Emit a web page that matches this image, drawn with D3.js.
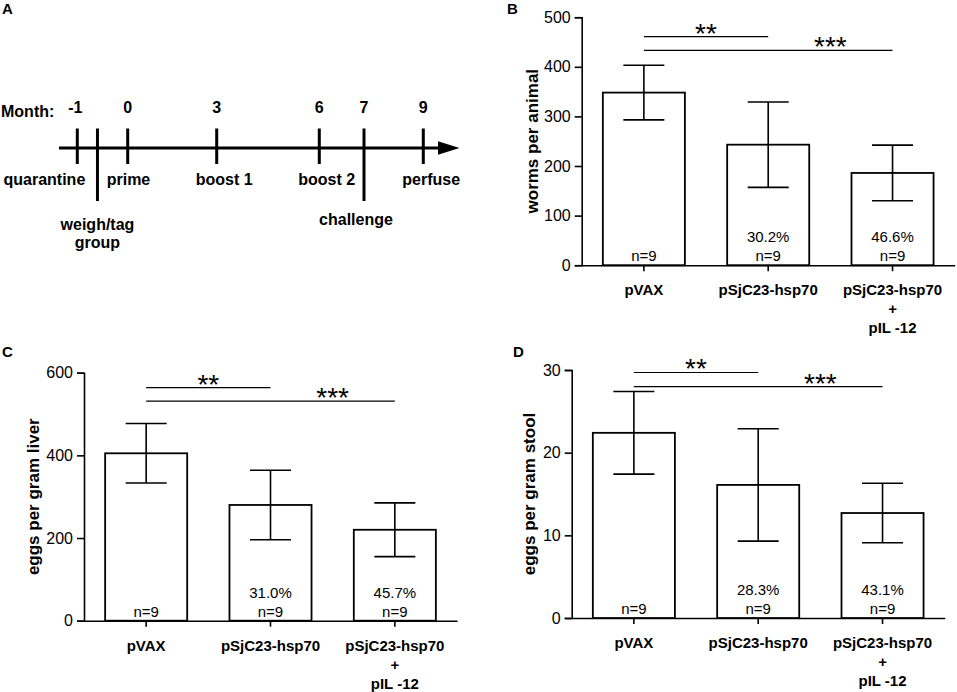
<!DOCTYPE html>
<html>
<head>
<meta charset="utf-8">
<script src="https://cdn.jsdelivr.net/npm/d3@7"></script>
<style>
  body { margin: 0; background: #fff; }
  svg text { font-family: "Liberation Sans", Arial, sans-serif; fill: #000; }
</style>
</head>
<body>
<div id="chart"></div>
<script>
// ---- data ----
var groups = ["pVAX", "pSjC23-hsp70", "pSjC23-hsp70 + pIL-12"];
var groupLines = [["pVAX"], ["pSjC23-hsp70"], ["pSjC23-hsp70", "+", "pIL -12"]];
var nLabels = ["n=9", "n=9", "n=9"];

var wormsMean = [348, 243, 186];
var wormsSd = [55, 86, 56];
var wormsReduction = ["", "30.2%", "46.6%"];
var wormsTicks = [0, 100, 200, 300, 400, 500];
var wormsSig = [461, 433];

var liverMean = [405, 280, 220];
var liverSd = [72, 84, 65];
var liverReduction = ["", "31.0%", "45.7%"];
var liverTicks = [0, 200, 400, 600];
var liverSig = [564, 531];

var stoolMean = [22.4, 16.1, 12.7];
var stoolSd = [5.0, 6.8, 3.6];
var stoolReduction = ["", "28.3%", "43.1%"];
var stoolTicks = [0, 10, 20, 30];
var stoolSig = [29.7, 28.0];

var sigStars = ["**", "***"];
var sigTargets = [1, 2];

var months = [-1, 0, 3, 6, 7, 9];
var monthEvents = ["quarantine", "prime", "boost 1", "boost 2", "", "perfuse"];
var extraMarks = [{m: -0.6, lines: ["weigh/tag", "group"]}, {m: 7, lines: ["challenge"]}];

var svg = d3.select("#chart").append("svg")
    .attr("width", 957)
    .attr("height", 692);

// panel letters
var letters = [["A", 2, 14], ["B", 507, 14], ["C", 2, 357], ["D", 513, 357]];
svg.selectAll(".letter").data(letters).enter().append("text")
    .attr("x", function(d) { return d[1]; })
    .attr("y", function(d) { return d[2]; })
    .attr("font-size", 15).attr("font-weight", "bold")
    .text(function(d) { return d[0]; });

// ---- panel A: timeline ----
var tx = d3.scaleLinear()
    .domain([-1, 0, 3, 6, 7, 9])
    .range([77.3, 127.7, 216.7, 319.3, 364, 423.3]);
var lineY = 148;
var tl = svg.append("g");

tl.append("line")
    .attr("x1", 59).attr("x2", 442)
    .attr("y1", lineY).attr("y2", lineY)
    .attr("stroke", "#000").attr("stroke-width", 3);
tl.append("path")
    .attr("d", "M438," + (lineY - 6.8) + "L459.5," + lineY + "L438," + (lineY + 6.8) + "Z")
    .attr("fill", "#000");

// month ticks (7 is drawn long as challenge)
tl.selectAll(".mtick").data(months.filter(function(m) { return m != 7; })).enter().append("line")
    .attr("x1", function(d) { return tx(d); }).attr("x2", function(d) { return tx(d); })
    .attr("y1", 128.5).attr("y2", 164)
    .attr("stroke", "#000").attr("stroke-width", 3);

tl.selectAll(".xtick").data(extraMarks).enter().append("line")
    .attr("x1", function(d) { return tx(d.m); }).attr("x2", function(d) { return tx(d.m); })
    .attr("y1", 128.5).attr("y2", 201)
    .attr("stroke", "#000").attr("stroke-width", 3);

tl.append("text").attr("x", 1).attr("y", 117)
    .attr("font-size", 16).attr("font-weight", "bold").text("Month:");

tl.selectAll(".mlab").data(months).enter().append("text")
    .attr("x", function(d) { return tx(d) - (d < 0 ? 2 : 0); })
    .attr("y", 113)
    .attr("text-anchor", "middle")
    .attr("font-size", 16).attr("font-weight", "bold")
    .text(function(d) { return d; });

tl.selectAll(".ev").data(months).enter().append("text")
    .attr("x", function(d, i) { return i == 0 ? tx(d) + 8 : tx(d) - 21; })
    .attr("y", 185)
    .attr("text-anchor", function(d, i) { return i == 0 ? "end" : "start"; })
    .attr("font-size", 16).attr("font-weight", "bold")
    .text(function(d, i) { return monthEvents[i]; });

extraMarks.forEach(function(e, k) {
    var t = tl.append("text")
        .attr("x", tx(e.m) + (k == 1 ? -8 : 0))
        .attr("y", k == 1 ? 225 : 230)
        .attr("text-anchor", "middle")
        .attr("font-size", 16).attr("font-weight", "bold");
    e.lines.forEach(function(s, j) {
        t.append("tspan").attr("x", tx(e.m) + (k == 1 ? -8 : 0))
            .attr("dy", j == 0 ? 0 : 18).text(s);
    });
});

// ---- bar panels ----
function barPanel(opt) {
    var g = svg.append("g").attr("transform", "translate(" + opt.left + "," + opt.top + ")");
    var w = 373, h = 248;

    var x = d3.scaleBand().domain(groups).range([0, w]).paddingInner(0.34).paddingOuter(0.17);
    var y = d3.scaleLinear().domain([0, opt.ticks[opt.ticks.length - 1]]).range([h, 0]);

    // y axis
    var ya = g.append("g")
        .call(d3.axisLeft(y).tickValues(opt.ticks).tickSize(7).tickPadding(4));
    ya.select(".domain").attr("stroke-width", 1.6);
    ya.selectAll(".tick line").attr("stroke-width", 1.6);
    ya.selectAll(".tick text").attr("font-size", 16).attr("font-family", null);

    // x axis
    var xa = g.append("g").attr("transform", "translate(0," + h + ")")
        .call(d3.axisBottom(x).tickSize(6).tickSizeOuter(0).tickFormat(""));
    xa.select(".domain").attr("stroke-width", 1.6);
    xa.selectAll(".tick line").attr("stroke-width", 1.6);

    // bars
    g.selectAll(".bar").data(opt.mean).enter().append("rect")
        .attr("x", function(d, i) { return x(groups[i]); })
        .attr("y", function(d) { return y(d); })
        .attr("width", x.bandwidth())
        .attr("height", function(d) { return h - y(d); })
        .attr("fill", "#fff").attr("stroke", "#000").attr("stroke-width", 1.8);

    // error bars
    var cx = function(i) { return x(groups[i]) + x.bandwidth() / 2; };
    opt.mean.forEach(function(m, i) {
        var hi = y(m + opt.sd[i]), lo = y(m - opt.sd[i]);
        g.append("line").attr("x1", cx(i)).attr("x2", cx(i)).attr("y1", hi).attr("y2", lo)
            .attr("stroke", "#000").attr("stroke-width", 1.6);
        [hi, lo].forEach(function(yy) {
            g.append("line").attr("x1", cx(i) - 20.5).attr("x2", cx(i) + 20.5)
                .attr("y1", yy).attr("y2", yy)
                .attr("stroke", "#000").attr("stroke-width", 1.6);
        });
    });

    // in-bar labels
    g.selectAll(".n").data(nLabels).enter().append("text")
        .attr("x", function(d, i) { return cx(i); })
        .attr("y", h - 4)
        .attr("text-anchor", "middle").attr("font-size", 15)
        .text(function(d) { return d; });
    g.selectAll(".pct").data(opt.reduction).enter().append("text")
        .attr("x", function(d, i) { return cx(i); })
        .attr("y", h - 23)
        .attr("text-anchor", "middle").attr("font-size", 15)
        .text(function(d) { return d; });

    // significance
    opt.sig.forEach(function(v, k) {
        var j = sigTargets[k];
        g.append("line").attr("x1", cx(0)).attr("x2", cx(j))
            .attr("y1", y(v)).attr("y2", y(v))
            .attr("stroke", "#000").attr("stroke-width", 1.2);
        var sx = k == 0 ? (cx(0) + cx(1)) / 2 : (cx(1) + cx(2)) / 2;
        g.append("text").attr("x", sx).attr("y", y(v) + 6)
            .attr("text-anchor", "middle").attr("font-size", 28)
            .text(sigStars[k]);
    });

    // category labels
    groupLines.forEach(function(lines, i) {
        lines.forEach(function(s, j) {
            g.append("text").attr("x", cx(i)).attr("y", h + 30 + j * 19)
                .attr("text-anchor", "middle")
                .attr("font-size", 15).attr("font-weight", "bold")
                .text(s);
        });
    });

    // y title
    g.append("text")
        .attr("transform", "translate(" + opt.titleX + "," + (h / 2) + ") rotate(-90)")
        .attr("text-anchor", "middle").attr("dy", "0.35em")
        .attr("font-size", 17).attr("font-weight", "bold")
        .text(opt.title);
}

barPanel({left: 581.7, top: 17.2, ticks: wormsTicks, mean: wormsMean, sd: wormsSd,
    reduction: wormsReduction, sig: wormsSig, title: "worms per animal", titleX: -50});
barPanel({left: 84, top: 372.7, ticks: liverTicks, mean: liverMean, sd: liverSd,
    reduction: liverReduction, sig: liverSig, title: "eggs per gram liver", titleX: -51});
barPanel({left: 571.7, top: 370, ticks: stoolTicks, mean: stoolMean, sd: stoolSd,
    reduction: stoolReduction, sig: stoolSig, title: "eggs per gram stool", titleX: -43});
</script>
</body>
</html>
